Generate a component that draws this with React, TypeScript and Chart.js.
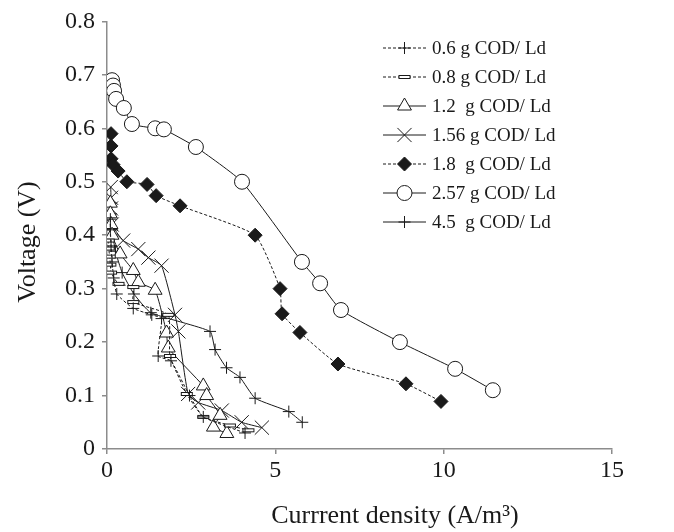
import React, { useEffect, useRef } from "react";
import { Chart, registerables } from "chart.js";

Chart.register(...registerables);

const SERIES_LABELS = [
  "0.6 g COD/ Ld",
  "0.8 g COD/ Ld",
  "1.2  g COD/ Ld",
  "1.56 g COD/ Ld",
  "1.8  g COD/ Ld",
  "2.57 g COD/ Ld",
  "4.5  g COD/ Ld",
];

// 0.6 g COD/Ld
const S06_X = [0.1, 0.1, 0.12, 0.15, 0.2, 0.29, 0.78, 1.33, 1.62, 1.52, 1.9, 2.45, 2.86, 4.1];
const S06_Y = [0.43, 0.41, 0.38, 0.35, 0.32, 0.29, 0.263, 0.251, 0.244, 0.174, 0.165, 0.1, 0.06, 0.03];
// 0.8 g COD/Ld
const S08_X = [0.05, 0.05, 0.08, 0.1, 0.12, 0.34, 0.78, 0.78, 1.82, 1.87, 2.37, 2.86, 3.65, 4.2];
const S08_Y = [0.39, 0.375, 0.36, 0.345, 0.33, 0.309, 0.303, 0.275, 0.251, 0.174, 0.103, 0.06, 0.044, 0.035];
// 1.2 g COD/Ld
const S12_X = [0.1, 0.1, 0.12, 0.15, 0.39, 0.78, 0.93, 1.43, 1.77, 1.82, 2.86, 2.96, 3.36, 3.16, 3.56];
const S12_Y = [0.46, 0.44, 0.42, 0.4, 0.365, 0.334, 0.312, 0.297, 0.217, 0.189, 0.118, 0.1, 0.063, 0.041, 0.029];
// 1.56 g COD/Ld
const S156_X = [0.11, 0.12, 0.12, 0.14, 0.48, 0.93, 1.23, 1.62, 2.02, 2.12, 2.41, 2.71, 3.41, 4.0, 4.6];
const S156_Y = [0.49, 0.47, 0.45, 0.42, 0.39, 0.374, 0.358, 0.343, 0.251, 0.22, 0.103, 0.087, 0.072, 0.05, 0.04];
// 1.8 g COD/Ld
const S18_X = [0.12, 0.12, 0.12, 0.18, 0.33, 0.59, 1.19, 1.46, 2.17, 4.4, 5.14, 5.2, 5.73, 6.86, 8.88, 9.92];
const S18_Y = [0.59, 0.567, 0.543, 0.532, 0.52, 0.5, 0.495, 0.474, 0.455, 0.4, 0.3, 0.253, 0.218, 0.159, 0.122, 0.089];
// 2.57 g COD/Ld
const S257_X = [0.15, 0.18, 0.21, 0.27, 0.5, 0.74, 1.43, 1.69, 2.64, 4.01, 5.79, 6.33, 6.95, 8.7, 10.34, 11.46];
const S257_Y = [0.69, 0.68, 0.67, 0.655, 0.638, 0.608, 0.6, 0.598, 0.565, 0.5, 0.35, 0.31, 0.26, 0.2, 0.15, 0.11];
// 4.5 g COD/Ld
const S45_X = [0.1, 0.12, 0.15, 0.25, 0.45, 0.8, 1.3, 3.06, 3.21, 3.55, 3.95, 4.4, 5.4, 5.8];
const S45_Y = [0.46, 0.44, 0.41, 0.37, 0.33, 0.29, 0.255, 0.22, 0.186, 0.152, 0.134, 0.095, 0.07, 0.05];

const X_MIN = 0, X_MAX = 15, X_STEP = 5;
const Y_MIN = 0, Y_MAX = 0.8, Y_STEP = 0.1;
const X_TITLE = "Currrent density (A/m\u00B3)";
const Y_TITLE = "Voltage (V)";

const FONT = "'Liberation Serif', 'DejaVu Serif', serif";
const INK = "#1a1a1a";
const AXIS = "#8c8c8c";

function pts(xs: number[], ys: number[]) {
  return xs.map((x, i) => ({ x, y: ys[i] }));
}

function makeRectMarker(): HTMLCanvasElement {
  const c = document.createElement("canvas");
  c.width = 14;
  c.height = 6;
  const g = c.getContext("2d")!;
  g.fillStyle = "#fff";
  g.fillRect(1, 1, 12, 4);
  g.strokeStyle = INK;
  g.lineWidth = 1;
  g.strokeRect(1.5, 1.5, 11, 3);
  return c;
}

function drawMarker(ctx: CanvasRenderingContext2D, style: any, x: number, y: number, r: number, fill: string) {
  ctx.save();
  ctx.setLineDash([]);
  ctx.strokeStyle = INK;
  ctx.fillStyle = fill;
  ctx.lineWidth = 1;
  if (style instanceof HTMLCanvasElement) {
    ctx.drawImage(style, x - style.width / 2, y - style.height / 2);
    ctx.restore();
    return;
  }
  ctx.beginPath();
  if (style === "cross") {
    ctx.moveTo(x - r, y); ctx.lineTo(x + r, y);
    ctx.moveTo(x, y - r); ctx.lineTo(x, y + r);
    ctx.stroke();
  } else if (style === "crossRot") {
    const d = r * Math.SQRT1_2;
    ctx.moveTo(x - d, y - d); ctx.lineTo(x + d, y + d);
    ctx.moveTo(x + d, y - d); ctx.lineTo(x - d, y + d);
    ctx.stroke();
  } else if (style === "triangle") {
    ctx.moveTo(x, y - r);
    ctx.lineTo(x + r * Math.sin(Math.PI / 3), y + r / 2);
    ctx.lineTo(x - r * Math.sin(Math.PI / 3), y + r / 2);
    ctx.closePath();
    ctx.fill(); ctx.stroke();
  } else if (style === "circle") {
    ctx.arc(x, y, r, 0, Math.PI * 2);
    ctx.fill(); ctx.stroke();
  } else if (style === "rectRot") {
    ctx.moveTo(x - r, y); ctx.lineTo(x, y - r); ctx.lineTo(x + r, y); ctx.lineTo(x, y + r);
    ctx.closePath();
    ctx.fill(); ctx.stroke();
  }
  ctx.restore();
}

const legendPlugin = {
  id: "customLegend",
  afterDraw(chart: any) {
    const ctx = chart.ctx as CanvasRenderingContext2D;
    const x0 = 383, x1 = 426, tx = 432, top = 48, gap = 29;
    chart.data.datasets.forEach((ds: any, i: number) => {
      const y = top + i * gap;
      ctx.save();
      ctx.strokeStyle = INK;
      ctx.lineWidth = 1;
      ctx.setLineDash(ds.borderDash || []);
      ctx.beginPath();
      ctx.moveTo(x0, y);
      ctx.lineTo(x1, y);
      ctx.stroke();
      ctx.restore();
      drawMarker(ctx, ds.pointStyle, (x0 + x1) / 2, y, ds.pointRadius, ds.pointBackgroundColor);
      ctx.save();
      ctx.fillStyle = INK;
      ctx.font = `19px ${FONT}`;
      ctx.textAlign = "left";
      ctx.textBaseline = "middle";
      ctx.fillText(ds.label, tx, y + 1);
      ctx.restore();
    });
  },
};

const titlesPlugin = {
  id: "axisTitles",
  afterDraw(chart: any) {
    const ctx = chart.ctx as CanvasRenderingContext2D;
    ctx.save();
    ctx.fillStyle = INK;
    ctx.font = `26px ${FONT}`;
    ctx.textAlign = "center";
    ctx.textBaseline = "middle";
    ctx.fillText(X_TITLE, 395, 516);
    ctx.translate(28, 242);
    ctx.rotate(-Math.PI / 2);
    ctx.fillText(Y_TITLE, 0, 0);
    ctx.restore();
  },
};

export default function App() {
  const ref = useRef<HTMLCanvasElement | null>(null);

  useEffect(() => {
    document.body.style.margin = "0";
    const rectMarker = makeRectMarker();
    const mk = (
      label: string,
      data: { x: number; y: number }[],
      style: any,
      radius: number,
      fill: string,
      dashed: boolean
    ) => ({
      label,
      data,
      showLine: true,
      borderColor: INK,
      borderWidth: 1,
      borderDash: dashed ? [3, 2] : [],
      tension: 0.15,
      pointStyle: style,
      pointRadius: radius,
      pointBorderWidth: 1,
      pointBorderColor: INK,
      pointBackgroundColor: fill,
    });

    const chart = new Chart(ref.current!, {
      type: "scatter",
      data: {
        datasets: [
          mk(SERIES_LABELS[0], pts(S06_X, S06_Y), "cross", 6, "#fff", true),
          mk(SERIES_LABELS[1], pts(S08_X, S08_Y), rectMarker, 6, "#fff", true),
          mk(SERIES_LABELS[2], pts(S12_X, S12_Y), "triangle", 8, "#fff", false),
          mk(SERIES_LABELS[3], pts(S156_X, S156_Y), "crossRot", 10, "#fff", false),
          mk(SERIES_LABELS[4], pts(S18_X, S18_Y), "rectRot", 7, INK, true),
          mk(SERIES_LABELS[5], pts(S257_X, S257_Y), "circle", 7.5, "#fff", false),
          mk(SERIES_LABELS[6], pts(S45_X, S45_Y), "cross", 6, "#fff", false),
        ] as any,
      },
      options: {
        responsive: false,
        animation: false,
        devicePixelRatio: 1,
        layout: { padding: { top: 16, right: 62, left: 0, bottom: 0 } },
        plugins: { legend: { display: false }, tooltip: { enabled: false } },
        scales: {
          x: {
            type: "linear",
            min: X_MIN,
            max: X_MAX,
            afterFit: (s: any) => { s.height = 83; },
            ticks: {
              stepSize: X_STEP,
              color: INK,
              padding: 2,
              font: { family: FONT, size: 24 },
            },
            grid: { drawOnChartArea: false, drawTicks: true, tickLength: 5, color: AXIS, lineWidth: 1.5 },
            border: { color: AXIS, width: 1.5 },
          },
          y: {
            type: "linear",
            min: Y_MIN,
            max: Y_MAX,
            afterFit: (s: any) => { s.width = 107; },
            ticks: {
              stepSize: Y_STEP,
              color: INK,
              padding: 7,
              font: { family: FONT, size: 24 },
              callback: (v: any) => (Math.abs(v) < 1e-9 ? "0" : Number(v).toFixed(1)),
            },
            grid: { drawOnChartArea: false, drawTicks: true, tickLength: 5, color: AXIS, lineWidth: 1.5 },
            border: { color: AXIS, width: 1.5 },
          },
        },
      },
      plugins: [legendPlugin, titlesPlugin],
    });
    return () => chart.destroy();
  }, []);

  return (
    <div style={{ position: "absolute", left: 0, top: 0, width: 674, height: 532, background: "#fff" }}>
      <canvas ref={ref} width={674} height={532} style={{ display: "block", width: 674, height: 532 }} />
    </div>
  );
}
